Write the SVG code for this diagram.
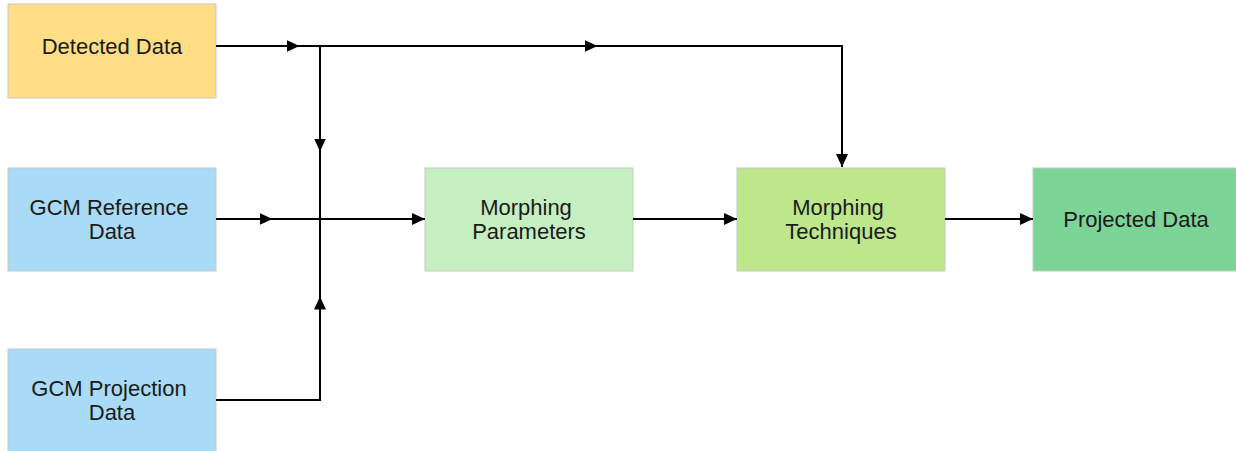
<svg xmlns="http://www.w3.org/2000/svg" width="1236" height="451" viewBox="0 0 1236 451">
<style>
.box{stroke:#c8c8c8;stroke-width:1}
.t{font-family:"Liberation Sans",Arial,sans-serif;font-size:22px;fill:#1a1a1a;text-anchor:middle}
.c{fill:none;stroke:#000;stroke-width:2}
</style>
<defs>
<marker id="ah" viewBox="0 0 13 13" refX="13" refY="6.5" markerWidth="13" markerHeight="13" markerUnits="userSpaceOnUse" orient="auto">
<path d="M0,0.5 L13,6.5 L0,12.5 Z" fill="#000"/>
</marker>
<marker id="mid" viewBox="0 0 13 13" refX="6.5" refY="6.5" markerWidth="13" markerHeight="13" markerUnits="userSpaceOnUse" orient="auto">
<path d="M0,0.5 L13,6.5 L0,12.5 Z" fill="#000"/>
</marker>
</defs>
<rect width="1236" height="451" fill="#fff"/>
<g id="n-detected"><rect class="box" x="8" y="4" width="208" height="94" fill="#ffde85"/><text class="t" x="112" y="54">Detected Data</text></g>
<g id="n-gcmref"><rect class="box" x="8" y="168" width="208" height="103" fill="#a9dbf6"/><text class="t" x="109" y="215">GCM Reference</text><text class="t" x="112" y="239">Data</text></g>
<g id="n-gcmproj"><rect class="box" x="8" y="349" width="208" height="106" fill="#a9dbf6"/><text class="t" x="109" y="396">GCM Projection</text><text class="t" x="112" y="420">Data</text></g>
<g id="n-params"><rect class="box" x="425" y="168" width="208" height="103" fill="#c6efc1"/><text class="t" x="526" y="215">Morphing</text><text class="t" x="529" y="239">Parameters</text></g>
<g id="n-tech"><rect class="box" x="737" y="168" width="208" height="103" fill="#bde78a"/><text class="t" x="838" y="215">Morphing</text><text class="t" x="841" y="239">Techniques</text></g>
<g id="n-proj"><rect class="box" x="1033" y="168" width="210" height="103" fill="#7dd497"/><text class="t" x="1136" y="227">Projected Data</text></g>
<g id="connectors">
<path class="c" d="M216,46 L293,46" marker-end="url(#mid)"/>
<path class="c" d="M290,46 L591,46" marker-end="url(#mid)"/>
<path class="c" d="M588,46 L842,46 L842,167" marker-end="url(#ah)"/>
<path class="c" d="M320,46 L320,145" marker-end="url(#mid)"/>
<path class="c" d="M320,142 L320,219"/>
<path class="c" d="M216,219 L266,219" marker-end="url(#mid)"/>
<path class="c" d="M263,219 L425,219" marker-end="url(#ah)"/>
<path class="c" d="M216,400 L320,400 L320,303" marker-end="url(#mid)"/>
<path class="c" d="M320,306 L320,219"/>
<path class="c" d="M633,219 L737,219" marker-end="url(#ah)"/>
<path class="c" d="M945,219 L1033,219" marker-end="url(#ah)"/>
</g>
</svg>
